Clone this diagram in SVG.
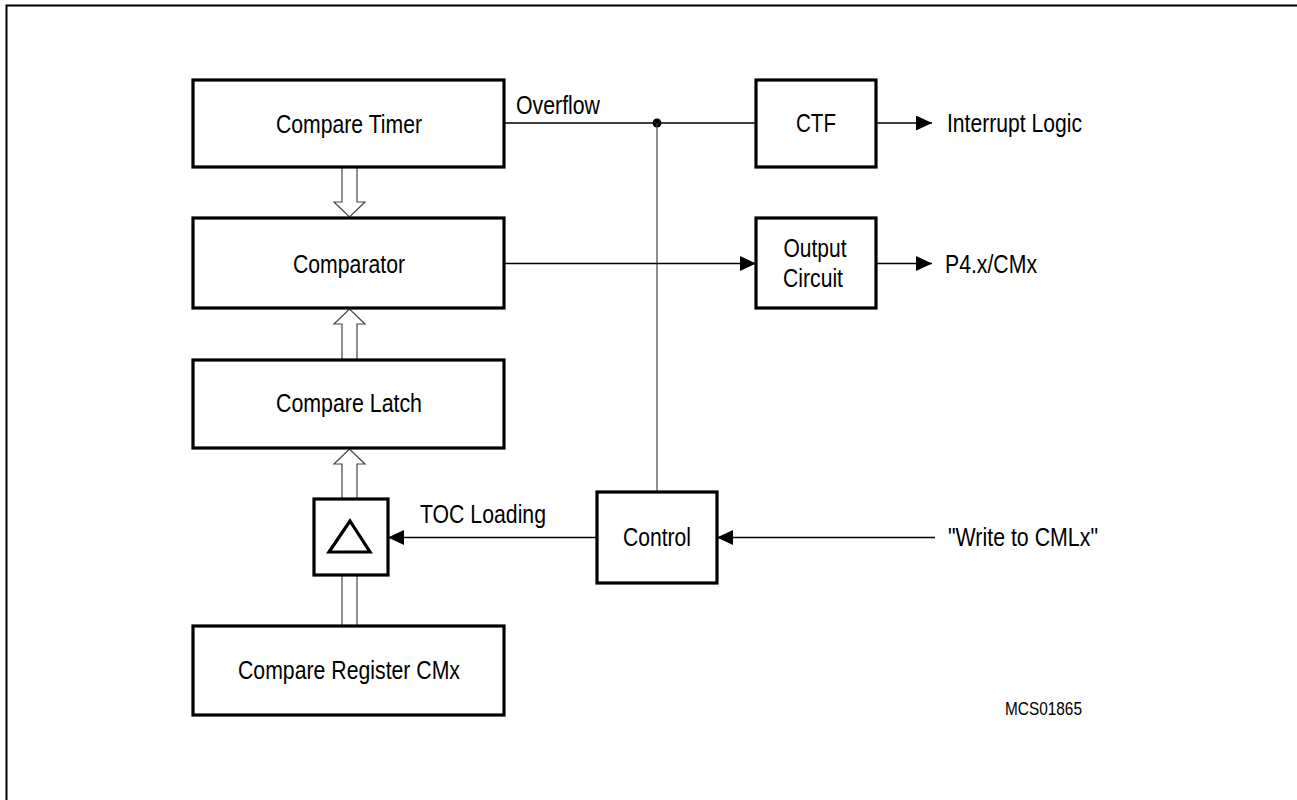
<svg xmlns="http://www.w3.org/2000/svg" width="1297" height="800" viewBox="0 0 1297 800">
<defs>
<marker id="ah" viewBox="0 0 16 15" refX="16" refY="7.5" markerWidth="16" markerHeight="15" markerUnits="userSpaceOnUse" orient="auto">
<path d="M0,0 L16,7.5 L0,15 z" fill="#000"/>
</marker>
</defs>
<style>
.box{fill:#fff;stroke:#000;stroke-width:3.2}
.t{font-family:"Liberation Sans",Arial,sans-serif;font-size:25.5px;fill:#000}
.m{text-anchor:middle}
.ln{fill:none;stroke:#000;stroke-width:1.3}
.gl{fill:none;stroke:#444;stroke-width:1.2}
.hol{fill:#fff;stroke:#444;stroke-width:1.2}
</style>
<rect width="1297" height="800" fill="#fff"/>
<path d="M6.5,800 V5.5 H1297" fill="none" stroke="#000" stroke-width="2"/>

<g id="connectors">
<line class="ln" x1="504" y1="123" x2="756" y2="123"/>
<circle cx="657" cy="123" r="4.5" fill="#000"/>
<line class="gl" x1="657" y1="123" x2="657" y2="492"/>
<line class="ln" x1="504" y1="263.5" x2="756" y2="263.5" marker-end="url(#ah)"/>
<line class="ln" x1="876" y1="123" x2="932" y2="123" marker-end="url(#ah)"/>
<line class="ln" x1="876" y1="263.5" x2="932" y2="263.5" marker-end="url(#ah)"/>
<line class="ln" x1="597" y1="537.5" x2="388" y2="537.5" marker-end="url(#ah)"/>
<line class="ln" x1="935" y1="537.5" x2="717" y2="537.5" marker-end="url(#ah)"/>
<polygon class="hol" points="342,167 342,202 334,202 349.5,217 365,202 357,202 357,167"/>
<polygon class="hol" points="342,360 342,324 334,324 349.5,309 365,324 357,324 357,360"/>
<polygon class="hol" points="342,499 342,464 334,464 349.5,449 365,464 357,464 357,499"/>
<line class="gl" x1="342" y1="575" x2="342" y2="626"/>
<line class="gl" x1="357" y1="575" x2="357" y2="626"/>
<text class="t" x="516" y="114" textLength="84" lengthAdjust="spacingAndGlyphs">Overflow</text>
<text class="t" x="420" y="523" textLength="126" lengthAdjust="spacingAndGlyphs">TOC Loading</text>
<text class="t" x="947" y="132" textLength="135" lengthAdjust="spacingAndGlyphs">Interrupt Logic</text>
<text class="t" x="945" y="273" textLength="92" lengthAdjust="spacingAndGlyphs">P4.x/CMx</text>
<text class="t" x="948" y="546" textLength="150" lengthAdjust="spacingAndGlyphs">"Write to CMLx"</text>
</g>

<g id="compare-timer">
<rect class="box" x="193" y="80" width="311" height="87"/>
<text class="t m" x="349" y="133" textLength="146" lengthAdjust="spacingAndGlyphs">Compare Timer</text>
</g>
<g id="comparator">
<rect class="box" x="193" y="218" width="311" height="90"/>
<text class="t m" x="349" y="272.5" textLength="112" lengthAdjust="spacingAndGlyphs">Comparator</text>
</g>
<g id="compare-latch">
<rect class="box" x="193" y="360" width="311" height="88"/>
<text class="t m" x="349" y="412" textLength="146" lengthAdjust="spacingAndGlyphs">Compare Latch</text>
</g>
<g id="delta">
<rect class="box" x="314" y="499" width="74" height="76"/>
<polygon points="350,521 370,552 329,552" fill="none" stroke="#000" stroke-width="3.2" stroke-linejoin="miter"/>
</g>
<g id="compare-register">
<rect class="box" x="193" y="626" width="311" height="89"/>
<text class="t m" x="349" y="679" textLength="222" lengthAdjust="spacingAndGlyphs">Compare Register CMx</text>
</g>
<g id="ctf">
<rect class="box" x="756" y="80" width="120" height="87"/>
<text class="t m" x="816" y="132" textLength="40" lengthAdjust="spacingAndGlyphs">CTF</text>
</g>
<g id="output-circuit">
<rect class="box" x="756" y="218" width="120" height="90"/>
<text class="t m" x="815" y="256.5" textLength="63" lengthAdjust="spacingAndGlyphs">Output</text>
<text class="t m" x="813" y="286.5" textLength="60" lengthAdjust="spacingAndGlyphs">Circuit</text>
</g>
<g id="control">
<rect class="box" x="597" y="492" width="120" height="91"/>
<text class="t m" x="657" y="546" textLength="68" lengthAdjust="spacingAndGlyphs">Control</text>
</g>
<g id="label">
<text class="t" x="1005" y="715" style="font-size:18px" textLength="77" lengthAdjust="spacingAndGlyphs">MCS01865</text>
</g>
</svg>
